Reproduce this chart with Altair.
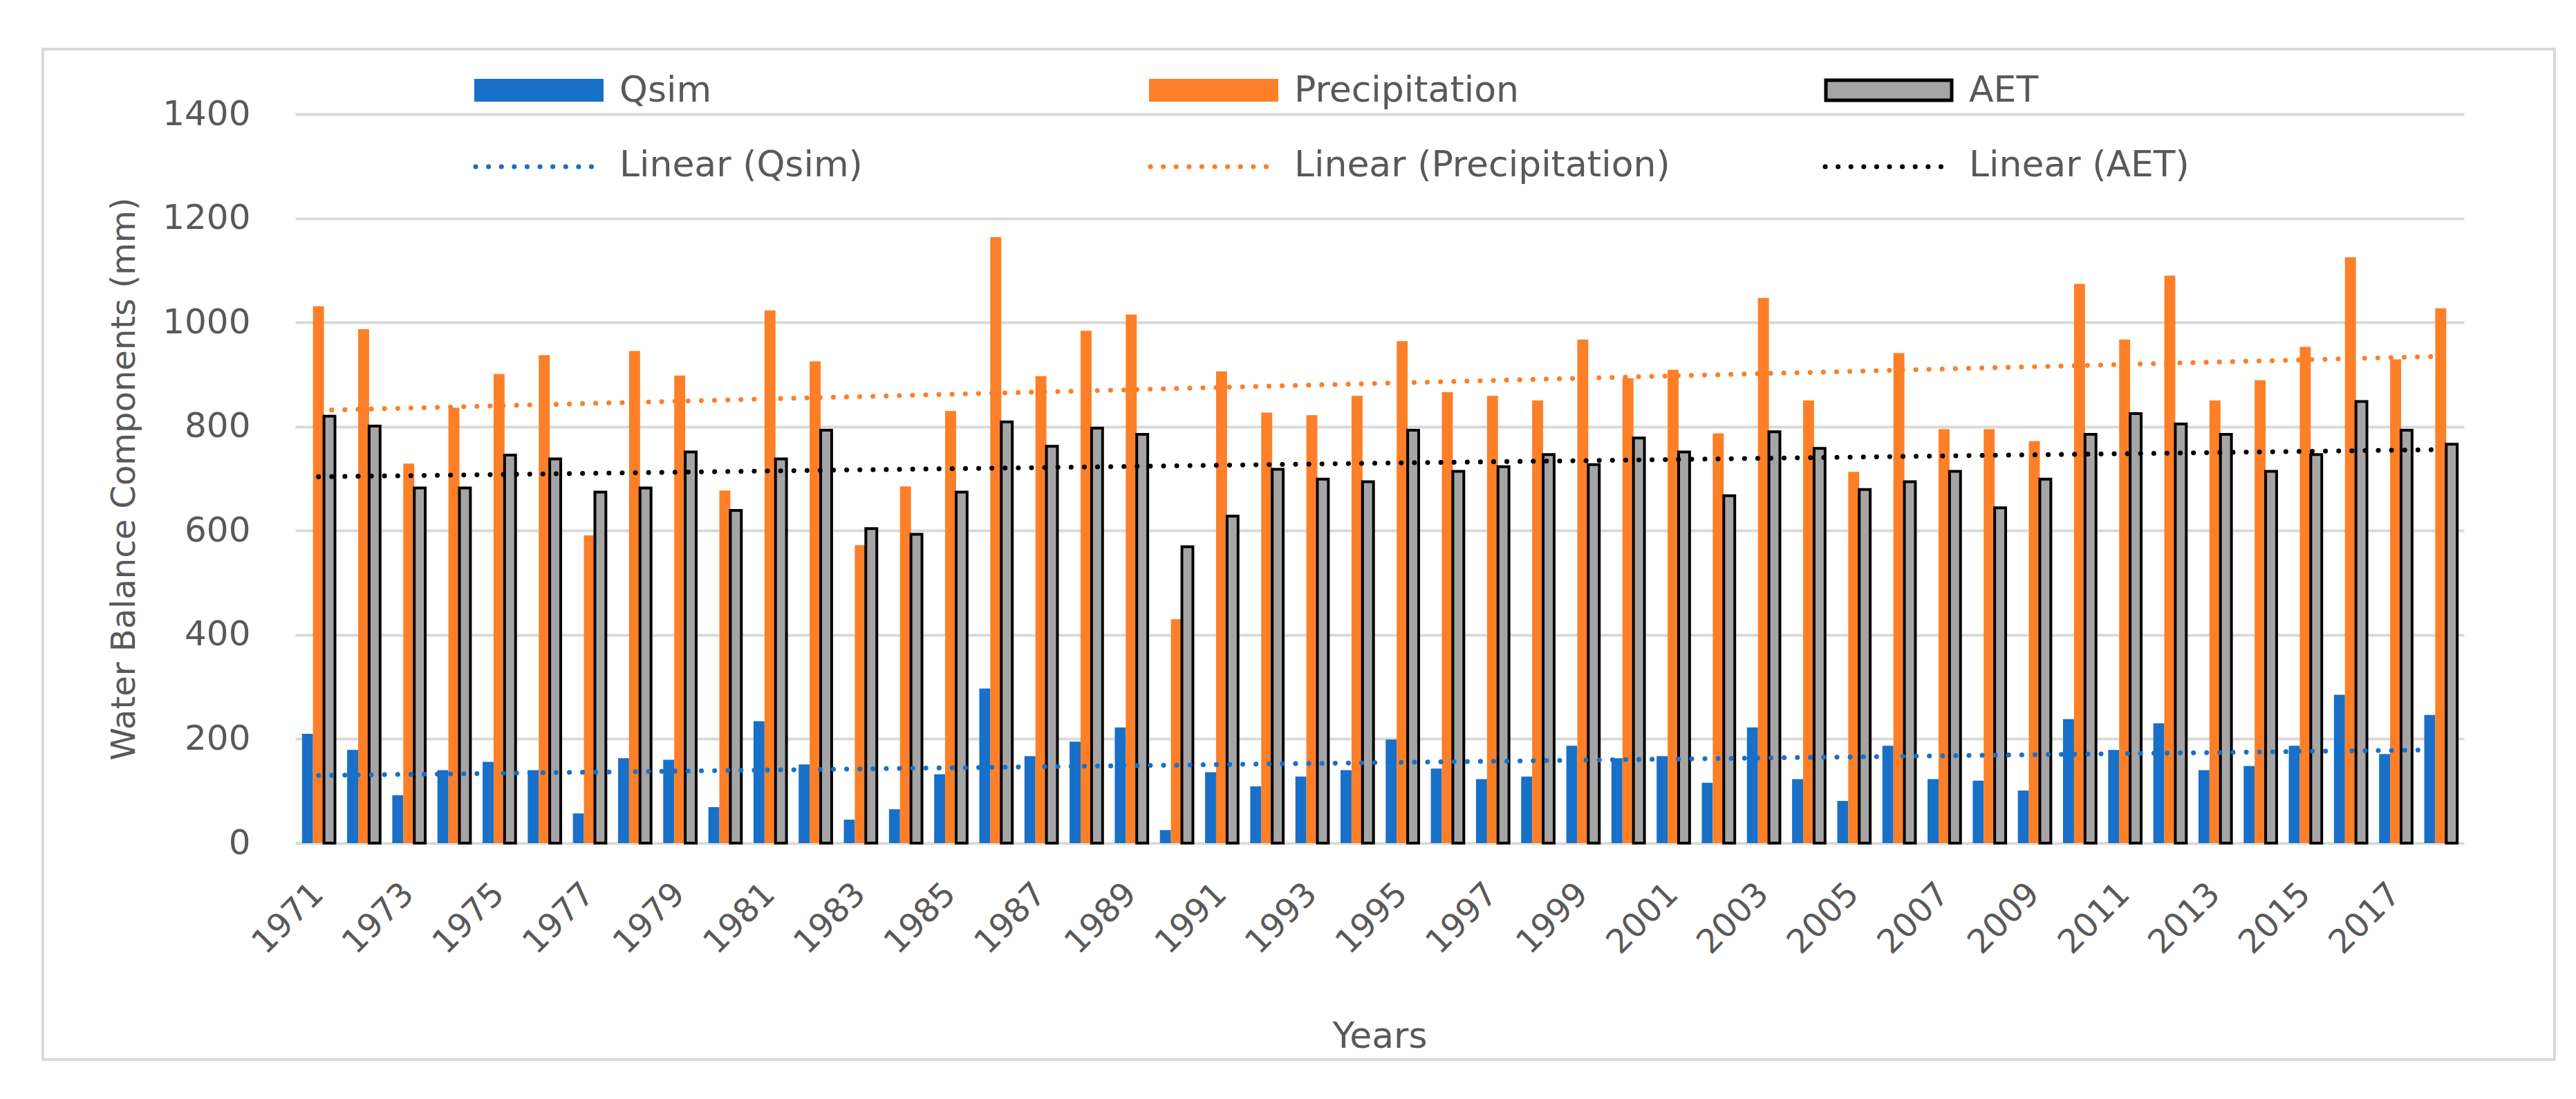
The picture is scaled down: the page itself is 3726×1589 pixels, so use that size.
import altair as alt
import pandas as pd

years = [str(y) for y in range(1971, 2019)]
qsim = [210, 179, 92, 140, 156, 140, 57, 163, 160, 69, 234, 151, 45, 65, 132, 297,
        167, 195, 222, 25, 136, 109, 128, 140, 199, 143, 123, 128, 187, 163, 167, 116,
        222, 123, 81, 187, 123, 120, 101, 238, 179, 230, 140, 148, 187, 285, 171, 246]
precipitation = [1031, 987, 729, 836, 901, 937, 591, 945, 898, 677, 1023, 925, 572, 685, 830, 1164,
                 897, 984, 1015, 430, 906, 827, 822, 859, 964, 866, 859, 850, 967, 893, 909, 787,
                 1047, 850, 713, 941, 795, 795, 772, 1074, 967, 1090, 850, 889, 953, 1125, 929, 1027]
aet = [820, 801, 682, 682, 745, 738, 674, 682, 751, 639, 738, 793, 604, 593, 674, 809,
       762, 797, 785, 569, 628, 718, 699, 694, 793, 714, 723, 746, 727, 778, 751, 667,
       790, 758, 679, 694, 714, 644, 699, 785, 825, 805, 785, 714, 746, 848, 793, 766]

series_names = ["Qsim", "Precipitation", "AET"]
trend_names = ["Linear (Qsim)", "Linear (Precipitation)", "Linear (AET)"]
bar_colors = ["#1870C8", "#FD7F28", "#A5A5A5"]
bar_strokes = ["rgba(0,0,0,0)", "rgba(0,0,0,0)", "#000000"]
trend_colors = ["#1870C8", "#FD7F28", "#000000"]
x_label_years = years[::2]
y_ticks = [0, 200, 400, 600, 800, 1000, 1200, 1400]
x_title = "Years"
y_title = "Water Balance Components (mm)"

rows = []
for name, trend, vals in zip(series_names, trend_names, [qsim, precipitation, aet]):
    for yr, v in zip(years, vals):
        rows.append({"year": yr, "yr": int(yr), "series": name, "trend": trend, "value": v})
df = pd.DataFrame(rows)

FONT = "DejaVu Sans"
TXT = "#595959"
GRID = "#D9D9D9"
W, H = 3137, 1054

x_enc = alt.X("year:N", sort=years,
              scale=alt.Scale(domain=years, paddingInner=0.27, paddingOuter=0.15),
              axis=alt.Axis(title=x_title, values=x_label_years))
y_axis = alt.Axis(title=y_title, values=y_ticks, format="d")

bars = alt.Chart(df).mark_bar(strokeWidth=4).encode(
    x=x_enc,
    y=alt.Y("value:Q", scale=alt.Scale(domain=[0, 1400], nice=False), axis=y_axis),
    xOffset=alt.XOffset("series:N", sort=series_names, scale=alt.Scale(domain=series_names)),
    fill=alt.Fill("series:N", scale=alt.Scale(domain=series_names, range=bar_colors), legend=None),
    stroke=alt.Stroke("series:N", scale=alt.Scale(domain=series_names, range=bar_strokes), legend=None),
)

trend = alt.Chart(df).transform_joinaggregate(
    mx="mean(yr)", my="mean(value)", groupby=["series"]
).transform_calculate(
    dxy="(datum.yr - datum.mx) * (datum.value - datum.my)",
    dxx="(datum.yr - datum.mx) * (datum.yr - datum.mx)",
).transform_joinaggregate(
    sxy="sum(dxy)", sxx="sum(dxx)", groupby=["series"]
).transform_calculate(
    fit="datum.my + datum.sxy / datum.sxx * (datum.yr - datum.mx)"
).mark_line(strokeDash=[0.1, 19], strokeWidth=7, strokeCap="round").encode(
    x=x_enc,
    y=alt.Y("fit:Q", scale=alt.Scale(domain=[0, 1400], nice=False), axis=y_axis),
    color=alt.Color("trend:N", scale=alt.Scale(domain=trend_names, range=trend_colors), legend=None),
)

one = pd.DataFrame({"k": [0]})
frame = alt.Chart(one).mark_rect(fill=None, stroke=GRID, strokeWidth=4).encode(
    x=alt.value(-365), x2=alt.value(3268), y=alt.value(-94), y2=alt.value(1367)
)

legend_layers = []
col_x = [259, 1235, 2211]
for i in range(3):
    cx = col_x[i]
    if i == 2:
        sym = alt.Chart(one).mark_rect(fill=bar_colors[i], stroke="#000000", strokeWidth=5).encode(
            x=alt.value(cx + 3), x2=alt.value(cx + 185), y=alt.value(-49), y2=alt.value(-20))
    else:
        sym = alt.Chart(one).mark_rect(fill=bar_colors[i]).encode(
            x=alt.value(cx), x2=alt.value(cx + 187), y=alt.value(-51), y2=alt.value(-18))
    lab1 = alt.Chart(pd.DataFrame({"label": [series_names[i]]})).mark_text(
        align="left", baseline="middle", font=FONT, fontSize=52, color=TXT).encode(
        x=alt.value(cx + 210), y=alt.value(-34), text="label:N")
    dots = alt.Chart(one).mark_rule(color=trend_colors[i], strokeDash=[0.1, 18.5], strokeWidth=7,
                                    strokeCap="round").encode(
        x=alt.value(cx + 2), x2=alt.value(cx + 187), y=alt.value(76))
    lab2 = alt.Chart(pd.DataFrame({"label": [trend_names[i]]})).mark_text(
        align="left", baseline="middle", font=FONT, fontSize=52, color=TXT).encode(
        x=alt.value(cx + 210), y=alt.value(74), text="label:N")
    legend_layers += [sym, lab1, dots, lab2]

chart = alt.layer(frame, bars, trend, *legend_layers).properties(
    width=W, height=H,
    autosize=alt.AutoSizeParams(type="none"),
    padding={"left": 419, "top": 157, "right": 150, "bottom": 355},
    background="white",
).configure_view(stroke=None).configure_axis(
    labelFont=FONT, labelColor=TXT, titleFont=FONT, titleColor=TXT, titleFontWeight="normal",
    domain=False, ticks=False, tickSize=0,
).configure_axisX(
    grid=False, labelAngle=-45, labelAlign="right", labelBaseline="middle", labelPadding=66,
    labelFontSize=48, labelOverlap=False, titleFontSize=52, titlePadding=85,
).configure_axisY(
    grid=True, gridColor=GRID, gridWidth=4, labelPadding=65, labelFontSize=50,
    titleFontSize=48, titlePadding=30,
)

chart.save("out.html", embed_options={"renderer": "svg", "actions": False})
